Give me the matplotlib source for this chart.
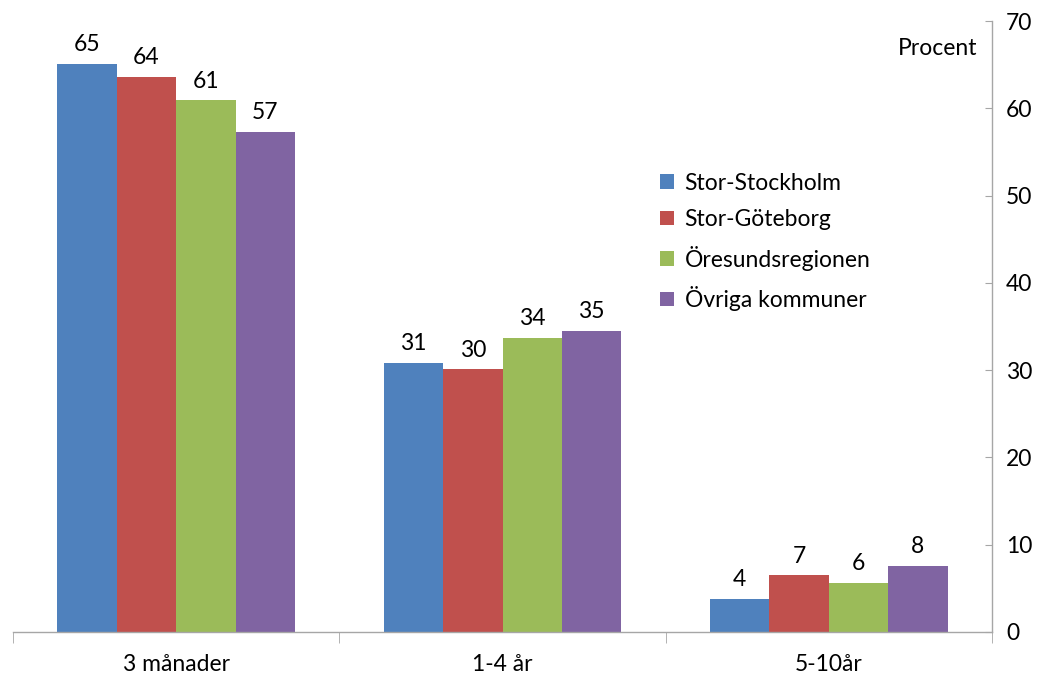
import matplotlib
matplotlib.use("Agg")
import matplotlib.pyplot as plt
import numpy as np

categories = ["3 månader", "1-4 år", "5-10år"]
series_names = ["Stor-Stockholm", "Stor-Göteborg", "Öresundsregionen", "Övriga kommuner"]
values = {
    "Stor-Stockholm": [65.1, 30.8, 3.8],
    "Stor-Göteborg": [63.6, 30.1, 6.5],
    "Öresundsregionen": [60.9, 33.7, 5.6],
    "Övriga kommuner": [57.3, 34.5, 7.6],
}
labels = {
    "Stor-Stockholm": ["65", "31", "4"],
    "Stor-Göteborg": ["64", "30", "7"],
    "Öresundsregionen": ["61", "34", "6"],
    "Övriga kommuner": ["57", "35", "8"],
}
colors = ["#4F81BD", "#C0504D", "#9BBB59", "#8064A2"]
yticks = [0, 10, 20, 30, 40, 50, 60, 70]

plt.rcParams['font.family'] = ['Lato', 'DejaVu Sans']
FS = 16.5

fig = plt.figure(figsize=(10.42, 6.76), dpi=100)
ax = fig.add_axes([13/1042, 1 - 632/676, (992-13)/1042, (632-21)/676])

n = len(series_names)
bw = 0.182
x = np.arange(len(categories))
for i, name in enumerate(series_names):
    pos = x + (i - (n - 1) / 2) * bw
    bars = ax.bar(pos, values[name], width=bw, color=colors[i], label=name, zorder=2)
    for b, lab in zip(bars, labels[name]):
        ax.text(b.get_x() + b.get_width() / 2, b.get_height() + 1.0, lab,
                ha="center", va="bottom", fontsize=FS, color="black")

ax.set_xlim(-0.5, len(categories) - 0.5)
ax.set_ylim(0, 70)
ax.yaxis.tick_right()
ax.set_yticks(yticks)
ax.set_yticklabels([str(t) for t in yticks], fontsize=FS)
ax.tick_params(axis="y", direction="in", length=5, color="#A6A6A6", pad=10)
ax.set_xticks(x)
ax.set_xticklabels(categories, fontsize=FS)
ax.set_xticks(np.arange(len(categories) + 1) - 0.5, minor=True)
ax.tick_params(axis="x", which="major", length=0, pad=16)
ax.tick_params(axis="x", which="minor", direction="out", length=8, color="#A6A6A6")

for s in ["top", "left"]:
    ax.spines[s].set_visible(False)
for s in ["bottom", "right"]:
    ax.spines[s].set_color("#A6A6A6")
    ax.spines[s].set_linewidth(1.0)

ax.text(0.985, 0.955, "Procent", transform=ax.transAxes, ha="right", va="center", fontsize=FS)

leg = ax.legend(loc="upper left", bbox_to_anchor=(0.652, 0.767), frameon=False,
                fontsize=FS, handlelength=0.6, handleheight=0.6, handletextpad=0.45,
                labelspacing=0.68, borderaxespad=0)

fig.savefig("out.png", dpi=100)
